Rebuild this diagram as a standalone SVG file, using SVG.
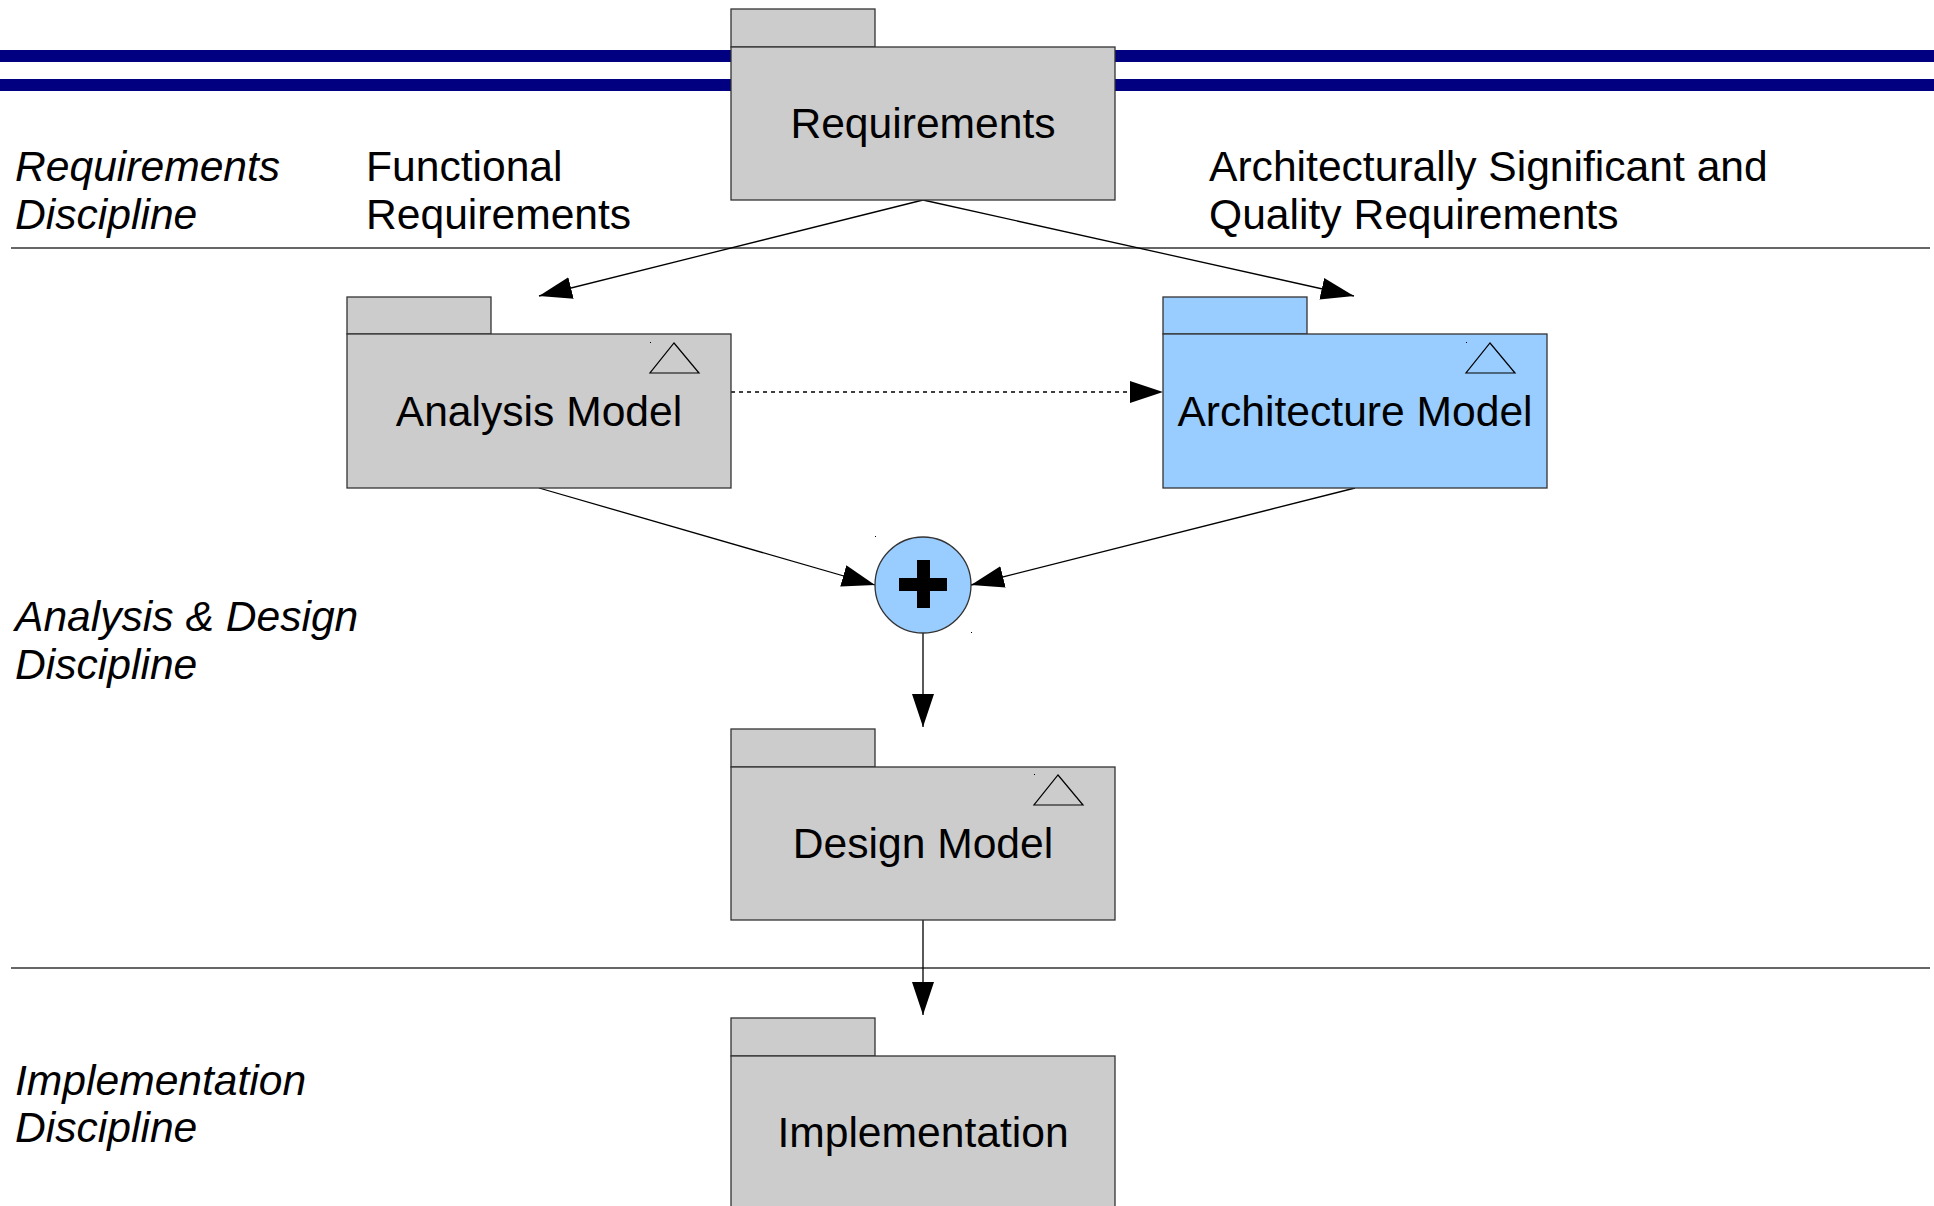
<svg xmlns="http://www.w3.org/2000/svg" width="1934" height="1206" viewBox="0 0 1934 1206">
<defs>
<style>
.pkg{fill:#cccccc;stroke:#333333;stroke-width:1.3}
.blue{fill:#99ccff}
.lbl{font-family:"Liberation Sans",Arial,sans-serif;font-size:42.6px;fill:#000}
.c{text-anchor:middle}
.it{font-style:italic}
.conn{stroke:#000;stroke-width:1.3;fill:none}
.sep{stroke:#333;stroke-width:1.3}
.tri{fill:none;stroke:#000;stroke-width:1.2}
</style>
<marker id="ah" markerUnits="userSpaceOnUse" markerWidth="34" markerHeight="24" refX="33" refY="11" orient="auto" viewBox="0 0 34 24">
<path d="M0,0 L33,11 L0,22 z" fill="#000"/>
</marker>
</defs>
<rect width="1934" height="1206" fill="#fff"/>
<g id="bands">
<rect x="0" y="50" width="1934" height="12" fill="#000080"/>
<rect x="0" y="79" width="1934" height="12" fill="#000080"/>
</g>
<g id="separators">
<line class="sep" x1="11" y1="248" x2="1930" y2="248"/>
<line class="sep" x1="11" y1="968" x2="1930" y2="968"/>
</g>
<g id="labels">
<text class="lbl it" x="15"><tspan x="15" y="181">Requirements</tspan><tspan x="15" y="229">Discipline</tspan></text>
<text class="lbl" x="366"><tspan x="366" y="181">Functional</tspan><tspan x="366" y="229">Requirements</tspan></text>
<text class="lbl" x="1209"><tspan x="1209" y="181">Architecturally Significant and</tspan><tspan x="1209" y="229">Quality Requirements</tspan></text>
<text class="lbl it" x="15"><tspan x="15" y="631">Analysis &amp; Design</tspan><tspan x="15" y="679">Discipline</tspan></text>
<text class="lbl it" x="15"><tspan x="15" y="1095">Implementation</tspan><tspan x="15" y="1142">Discipline</tspan></text>
</g>
<g id="connectors">
<line class="conn" x1="923" y1="200" x2="539" y2="296" marker-end="url(#ah)"/>
<line class="conn" x1="923" y1="200" x2="1354" y2="296" marker-end="url(#ah)"/>
<line class="conn" x1="731" y1="392" x2="1163" y2="392" stroke-dasharray="4 4" marker-end="url(#ah)"/>
<line class="conn" x1="539" y1="488" x2="875" y2="585" marker-end="url(#ah)"/>
<line class="conn" x1="1355" y1="488" x2="971" y2="585" marker-end="url(#ah)"/>
<line class="conn" x1="923" y1="633" x2="923" y2="727" marker-end="url(#ah)"/>
<line class="conn" x1="923" y1="920" x2="923" y2="1015" marker-end="url(#ah)"/>
</g>
<g id="requirements">
<rect class="pkg" x="731" y="9" width="144" height="38"/>
<rect class="pkg" x="731" y="47" width="384" height="153"/>
<text class="lbl c" x="923" y="138">Requirements</text>
</g>
<g id="analysis-model">
<rect class="pkg" x="347" y="297" width="144" height="37"/>
<rect class="pkg" x="347" y="334" width="384" height="154"/>
<path class="tri" d="M674,343 L699,373 L650,373 z"/>
<rect x="650" y="342" width="1" height="1" fill="#000"/>
<text class="lbl c" x="539" y="426">Analysis Model</text>
</g>
<g id="architecture-model">
<rect class="pkg blue" x="1163" y="297" width="144" height="37"/>
<rect class="pkg blue" x="1163" y="334" width="384" height="154"/>
<path class="tri" d="M1490,343 L1515,373 L1466,373 z"/>
<rect x="1466" y="342" width="1" height="1" fill="#000"/>
<text class="lbl c" x="1355" y="426">Architecture Model</text>
</g>
<g id="merge">
<circle cx="923" cy="585" r="48" fill="#99ccff" stroke="#333" stroke-width="1.3"/>
<rect x="899" y="578" width="48" height="13" fill="#000"/>
<rect x="917" y="560" width="13" height="48" fill="#000"/>
<rect x="875" y="536" width="1" height="1" fill="#000"/>
<rect x="971" y="632" width="1" height="1" fill="#000"/>
</g>
<g id="design-model">
<rect class="pkg" x="731" y="729" width="144" height="38"/>
<rect class="pkg" x="731" y="767" width="384" height="153"/>
<path class="tri" d="M1058,775 L1083,805 L1034,805 z"/>
<rect x="1034" y="774" width="1" height="1" fill="#000"/>
<text class="lbl c" x="923" y="858">Design Model</text>
</g>
<g id="implementation">
<rect class="pkg" x="731" y="1018" width="144" height="38"/>
<rect class="pkg" x="731" y="1056" width="384" height="160"/>
<text class="lbl c" x="923" y="1147">Implementation</text>
</g>
</svg>
